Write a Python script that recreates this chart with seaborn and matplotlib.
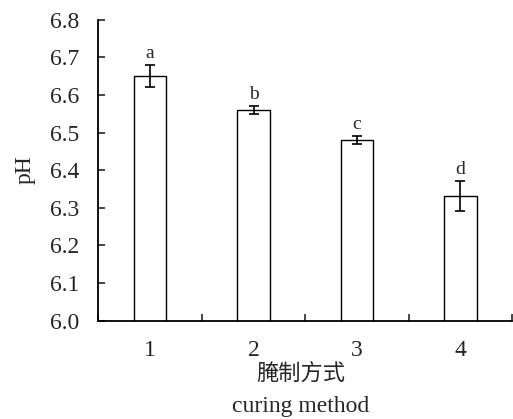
import matplotlib
matplotlib.use("Agg")
import matplotlib.pyplot as plt
import seaborn as sns
import numpy as np
import pandas as pd

# data
methods = ["1", "2", "3", "4"]
ph_mean = [6.65, 6.56, 6.48, 6.33]
ph_err = [0.03, 0.01, 0.01, 0.04]
letters = ["a", "b", "c", "d"]

sns.set_style("ticks")
plt.rcParams["font.family"] = ["Liberation Serif", "Noto Sans CJK SC"]

df = pd.DataFrame({"method": methods, "pH": ph_mean})

fig = plt.figure(figsize=(5.13, 4.19), dpi=100)
ax = fig.add_axes([0.192, 0.235, 0.806, 0.718])

sns.barplot(
    data=df,
    x="method",
    y="pH",
    width=0.315,
    color="white",
    edgecolor="black",
    linewidth=1.0,
    errorbar=None,
    ax=ax,
)

# error bars
x = np.arange(len(methods))
ax.errorbar(
    x, ph_mean, yerr=ph_err,
    fmt="none", ecolor="black", elinewidth=1.2, capsize=3.5, capthick=1.2,
)

# significance letters
for xi, m, e, lab in zip(x, ph_mean, ph_err, letters):
    ax.text(xi, m + e + 0.008, lab, ha="center", va="bottom", fontsize=14)

ax.set_ylim(6.0, 6.8)
ax.set_yticks(np.arange(6.0, 6.81, 0.1))
ax.set_yticklabels([f"{v:.1f}" for v in np.arange(6.0, 6.81, 0.1)])
ax.set_xlim(-0.5, 3.5)
ax.set_xticks(x)
ax.set_xticks(np.arange(-0.5, 3.6, 1.0), minor=True)

ax.tick_params(axis="x", which="major", length=0, labelsize=17, pad=14)
ax.tick_params(axis="x", which="minor", direction="in", length=5, width=1.2)
ax.tick_params(axis="y", direction="in", length=5, width=1.2, labelsize=17, pad=14)

sns.despine(ax=ax)
for s in ["left", "bottom"]:
    ax.spines[s].set_linewidth(1.3)
    ax.spines[s].set_color("black")

ax.set_ylabel("pH", fontsize=17, labelpad=10)
ax.set_xlabel("")

fig.text(0.586, 0.104, "腌制方式", ha="center", va="center", fontsize=16)
fig.text(0.586, 0.031, "curing method", ha="center", va="center", fontsize=17)

fig.savefig("out.png", dpi=100)
